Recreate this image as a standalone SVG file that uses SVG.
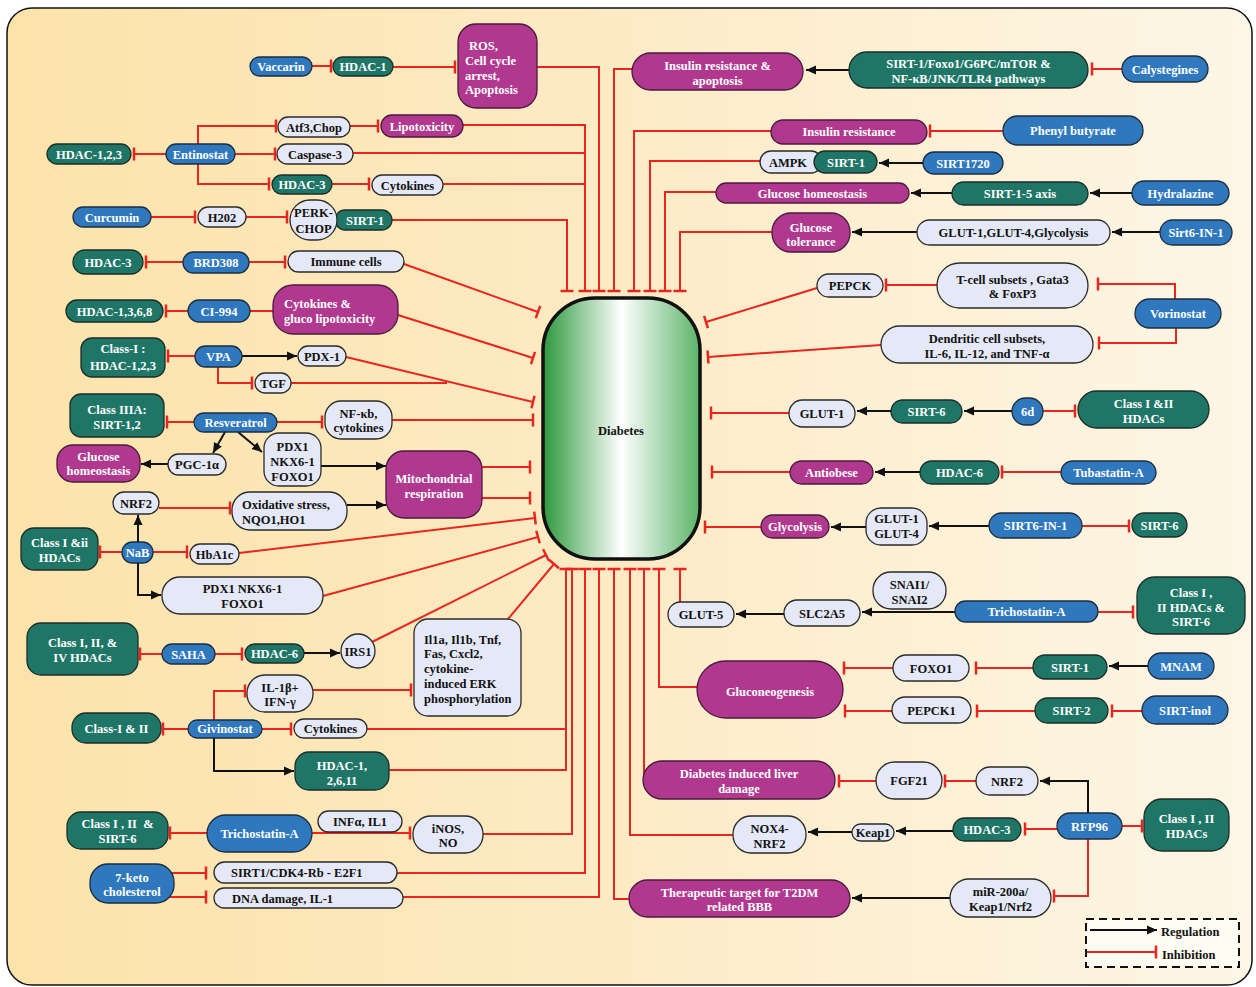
<svg xmlns="http://www.w3.org/2000/svg" width="1256" height="987" viewBox="0 0 1256 987">
<style>
  text { font-family: "Liberation Serif", "Times New Roman", serif; font-weight: bold; font-size: 12.5px; text-anchor: middle; }
  .w { fill: #ffffff; }
  .k { fill: #111111; }
  .s { text-anchor: start; }
  .b { fill: #2f78be; stroke: #1d2d40; stroke-width: 1.3; }
  .t { fill: #1f7667; stroke: #1d2d2a; stroke-width: 1.3; }
  .m { fill: #b0388f; stroke: #4a1a3c; stroke-width: 1.3; }
  .l { fill: #e5e9f7; stroke: #2a2a2a; stroke-width: 1.3; }
  .r { fill: none; stroke: #e8261f; stroke-width: 2; }
  .a { fill: none; stroke: #111111; stroke-width: 2; }
  .ri { marker-end: url(#inh); }
  .aa { marker-end: url(#arr); }
</style>
<defs>
  <linearGradient id="bg" x1="0" y1="0" x2="1" y2="0">
    <stop offset="0" stop-color="#fce3aa"/>
    <stop offset="0.5" stop-color="#fdebc6"/>
    <stop offset="1" stop-color="#fdf6e6"/>
  </linearGradient>
  <linearGradient id="dia" x1="0" y1="0" x2="1" y2="0">
    <stop offset="0" stop-color="#2c983c"/>
    <stop offset="0.5" stop-color="#ffffff"/>
    <stop offset="1" stop-color="#5bb468"/>
  </linearGradient>
  <marker id="inh" viewBox="-2 -7 4 14" refX="0" refY="0" markerWidth="4" markerHeight="14" markerUnits="userSpaceOnUse" orient="auto">
    <path d="M0,-6.5V6.5" stroke="#e8261f" stroke-width="2.5"/>
  </marker>
  <marker id="arr" viewBox="0 -5 10 10" refX="10" refY="0" markerWidth="10" markerHeight="10" markerUnits="userSpaceOnUse" orient="auto">
    <path d="M0,-4.5L10,0L0,4.5Z" fill="#111111"/>
  </marker>
</defs>

<!-- panel -->
<rect x="7" y="8" width="1245" height="977" rx="25" fill="url(#bg)" stroke="#111" stroke-width="1.5"/>

<!-- connectors -->
<g id="connectors">
  <!-- upper left chains -->
  <path class="r ri" d="M312,66H331"/>
  <path class="r ri" d="M393,67H455"/>
  <path class="r ri" d="M166,154H134"/>
  <path class="r ri" d="M198,144V126H276"/>
  <path class="r ri" d="M235,154H275"/>
  <path class="r ri" d="M198,164V184H269"/>
  <path class="r ri" d="M350,126H378"/>
  <path class="r ri" d="M332,184H369"/>
  <path class="r ri" d="M151,217H195"/>
  <path class="r ri" d="M246,217H287"/>
  <path class="r ri" d="M183,262H146"/>
  <path class="r ri" d="M249,262H285"/>
  <path class="r ri" d="M188,311H166"/>
  <path class="r" d="M250,311H273"/>
  <path class="r ri" d="M195,356H168"/>
  <path class="a aa" d="M242,356H297"/>
  <path class="r ri" d="M218,367V383H252"/>
  <path class="r ri" d="M194,422H167"/>
  <path class="r ri" d="M277,422H322"/>
  <path class="a aa" d="M225,432L213,453"/>
  <path class="a aa" d="M238,432L262,452"/>
  <path class="a aa" d="M168,464H141"/>
  <path class="a aa" d="M321,466H386"/>
  <path class="r ri" d="M159,508H230"/>
  <path class="a aa" d="M347,505H386"/>
  <path class="r ri" d="M122,552H100"/>
  <path class="a aa" d="M138,542V515"/>
  <path class="r ri" d="M153,552H187"/>
  <path class="a aa" d="M138,563V595H161"/>
  <path class="r ri" d="M162,654H140"/>
  <path class="r ri" d="M215,654H242"/>
  <path class="a aa" d="M304,653H340"/>
  <path class="r ri" d="M214,720V691H245"/>
  <path class="r ri" d="M313,690H411"/>
  <path class="r ri" d="M188,729H163"/>
  <path class="r ri" d="M262,729H291"/>
  <path class="a aa" d="M214,738V771H294"/>
  <path class="r ri" d="M207,833H170"/>
  <path class="r ri" d="M312,833H410"/>
  <path class="r ri" d="M168,873H206"/>
  <path class="r ri" d="M168,897H206"/>

  <!-- left side into Diabetes -->
  <path class="r ri" d="M404,264L538,312"/>
  <path class="r ri" d="M398,315L533,358"/>
  <path class="r ri" d="M346,357L533,402"/>
  <path class="r" d="M291,383H447"/>
  <path class="r ri" d="M392,420H533"/>
  <path class="r ri" d="M482,467H530"/>
  <path class="r ri" d="M482,498H530"/>
  <path class="r ri" d="M239,553L535,518"/>
  <path class="r ri" d="M323,596L538,537"/>
  <path class="r ri" d="M372,642L546,555"/>
  <path class="r ri" d="M508,619L554,564"/>

  <!-- top into Diabetes -->
  <path class="r ri" d="M392,220H567V291"/>
  <path class="r ri" d="M463,125H585V291"/>
  <path class="r" d="M353,153H585"/>
  <path class="r" d="M443,184H585"/>
  <path class="r ri" d="M537,67H599V291"/>
  <path class="r ri" d="M632,69H614V291"/>
  <path class="r ri" d="M771,131H634V291"/>
  <path class="r ri" d="M760,161H650V291"/>
  <path class="r ri" d="M716,192H665V291"/>
  <path class="r ri" d="M772,232H680V291"/>

  <!-- bottom into Diabetes -->
  <path class="r ri" d="M389,770H566V569"/>
  <path class="r" d="M367,729H566"/>
  <path class="r ri" d="M483,834H572V569"/>
  <path class="r ri" d="M397,873H585V569"/>
  <path class="r ri" d="M403,897H599V569"/>
  <path class="r ri" d="M629,899H614V569"/>
  <path class="r ri" d="M733,835H630V569"/>
  <path class="r ri" d="M644,775V569"/>
  <path class="r ri" d="M697,687H659V569"/>
  <path class="r ri" d="M680,602V569"/>

  <!-- right side into Diabetes -->
  <path class="r ri" d="M817,288L706,322"/>
  <path class="r ri" d="M881,345L708,357"/>
  <path class="r ri" d="M789,413H711"/>
  <path class="r ri" d="M790,472H712"/>
  <path class="r ri" d="M761,527H705"/>

  <!-- right chains -->
  <path class="a aa" d="M849,70H806"/>
  <path class="r ri" d="M1122,69H1092"/>
  <path class="r ri" d="M1003,131H930"/>
  <path class="a aa" d="M923,163H879"/>
  <path class="a aa" d="M952,193H911"/>
  <path class="a aa" d="M1132,193H1090"/>
  <path class="a aa" d="M917,232H852"/>
  <path class="a aa" d="M1160,232H1112"/>
  <path class="r ri" d="M937,285H886"/>
  <path class="r ri" d="M1175,299V284H1098"/>
  <path class="r ri" d="M1176,328V343H1099"/>
  <path class="a aa" d="M891,411H857"/>
  <path class="a aa" d="M1012,411H964"/>
  <path class="r ri" d="M1043,411H1075"/>
  <path class="a aa" d="M920,472H875"/>
  <path class="r ri" d="M1061,472H1002"/>
  <path class="a aa" d="M866,527H831"/>
  <path class="a aa" d="M989,526H929"/>
  <path class="r ri" d="M1082,526H1129"/>
  <path class="a aa" d="M784,614H736"/>
  <path class="a aa" d="M955,612H862"/>
  <path class="r ri" d="M1098,612H1133"/>
  <path class="r ri" d="M893,668H844"/>
  <path class="r ri" d="M1033,668H976"/>
  <path class="a aa" d="M1148,666H1109"/>
  <path class="r ri" d="M892,711H845"/>
  <path class="r ri" d="M1035,711H977"/>
  <path class="r ri" d="M1142,711H1112"/>
  <path class="r ri" d="M876,781H839"/>
  <path class="r ri" d="M976,781H945"/>
  <path class="a aa" d="M1088,813V781H1040"/>
  <path class="r ri" d="M1122,826H1142"/>
  <path class="r ri" d="M1057,829H1025"/>
  <path class="a aa" d="M953,831H896"/>
  <path class="a aa" d="M852,832H808"/>
  <path class="r ri" d="M1088,839V896H1054"/>
  <path class="a aa" d="M950,898H852"/>
</g>

<!-- central node -->
<g id="diabetes">
  <rect x="543" y="298" width="157" height="261" rx="52" fill="url(#dia)" stroke="#111" stroke-width="3.5"/>
  <text class="k" x="621" y="435" font-size="13">Diabetes</text>
</g>

<!-- left nodes -->
<g id="vaccarin"><rect class="b" x="250" y="57" width="62" height="19" rx="9.5"/><text class="w" x="281" y="70.5">Vaccarin</text></g>
<g id="hdac1-top"><rect class="t" x="333" y="57" width="60" height="19" rx="9.5"/><text class="w" x="363" y="70.5">HDAC-1</text></g>
<g id="ros"><rect class="m" x="458" y="24" width="79" height="84" rx="18"/>
  <text class="w s" x="469" y="49.5">ROS,</text><text class="w s" x="465" y="64.5">Cell cycle</text><text class="w s" x="465" y="79.5">arrest,</text><text class="w s" x="465" y="93.5">Apoptosis</text></g>
<g id="hdac123-a"><rect class="t" x="47" y="144" width="84" height="20" rx="10"/><text class="w" x="89" y="158.5">HDAC-1,2,3</text></g>
<g id="entinostat"><rect class="b" x="166" y="144" width="69" height="20" rx="10"/><text class="w" x="200.5" y="158.5">Entinostat</text></g>
<g id="atf3"><rect class="l" x="278" y="117" width="72" height="20" rx="10"/><text class="k" x="314" y="131.5">Atf3,Chop</text></g>
<g id="lipotoxicity"><rect class="m" x="381" y="115" width="82" height="22" rx="11"/><text class="w" x="422" y="130.5">Lipotoxicity</text></g>
<g id="caspase3"><rect class="l" x="277" y="144" width="76" height="20" rx="10"/><text class="k" x="315" y="158.5">Caspase-3</text></g>
<g id="hdac3-e"><rect class="t" x="272" y="175" width="60" height="19" rx="9.5"/><text class="w" x="302" y="188.5">HDAC-3</text></g>
<g id="cytokines-e"><rect class="l" x="372" y="175" width="71" height="20" rx="10"/><text class="k" x="407.5" y="189.5">Cytokines</text></g>
<g id="curcumin"><rect class="b" x="73" y="207" width="78" height="20" rx="10"/><text class="w" x="112" y="221.5">Curcumin</text></g>
<g id="h202"><rect class="l" x="198" y="207" width="48" height="20" rx="10"/><text class="k" x="222" y="221.5">H202</text></g>
<g id="sirt1-c"><rect class="t" x="335" y="210" width="57" height="20" rx="10"/><text class="w" x="365" y="224.5">SIRT-1</text></g>
<g id="perk-chop"><rect class="l" x="290" y="200" width="47" height="40" rx="20"/><text class="k" x="313.5" y="216.5">PERK-</text><text class="k" x="313.5" y="232.5">CHOP</text></g>
<g id="hdac3-b"><rect class="t" x="73" y="250" width="70" height="24" rx="12"/><text class="w" x="108" y="266.5">HDAC-3</text></g>
<g id="brd308"><rect class="b" x="183" y="252" width="66" height="21" rx="10.5"/><text class="w" x="216" y="267">BRD308</text></g>
<g id="immune"><rect class="l" x="288" y="251" width="116" height="21" rx="10.5"/><text class="k" x="346" y="266">Immune cells</text></g>
<g id="hdac1368"><rect class="t" x="66" y="300" width="97" height="22" rx="11"/><text class="w" x="114.5" y="315.5">HDAC-1,3,6,8</text></g>
<g id="ci994"><rect class="b" x="188" y="300" width="62" height="22" rx="11"/><text class="w" x="219" y="315.5">CI-994</text></g>
<g id="cyto-gluco"><rect class="m" x="273" y="285" width="125" height="49" rx="20"/><text class="w s" x="284" y="307.5">Cytokines &amp;</text><text class="w s" x="284" y="322.5">gluco lipotoxicity</text></g>
<g id="class1-hdac123"><rect class="t" x="81" y="338" width="84" height="39" rx="11"/><text class="w" x="123" y="352.5">Class-I :</text><text class="w" x="123" y="369.5">HDAC-1,2,3</text></g>
<g id="vpa"><rect class="b" x="195" y="346" width="47" height="21" rx="10.5"/><text class="w" x="218.5" y="361">VPA</text></g>
<g id="pdx1"><rect class="l" x="298" y="346" width="48" height="20" rx="10"/><text class="k" x="322" y="360.5">PDX-1</text></g>
<g id="tgf"><rect class="l" x="255" y="373" width="36" height="20" rx="10"/><text class="k" x="273" y="387.5">TGF</text></g>
<g id="class3a"><rect class="t" x="70" y="394" width="94" height="43" rx="11"/><text class="w" x="117" y="413.5">Class IIIA:</text><text class="w" x="117" y="428.5">SIRT-1,2</text></g>
<g id="resveratrol"><rect class="b" x="194" y="413" width="83" height="19" rx="9.5"/><text class="w" x="235.5" y="426.5">Resveratrol</text></g>
<g id="nfkb"><rect class="l" x="325" y="401" width="67" height="38" rx="16"/><text class="k" x="358.5" y="417.5">NF-κb,</text><text class="k" x="358.5" y="431.5">cytokines</text></g>
<g id="pgc1a"><rect class="l" x="168" y="454" width="58" height="21" rx="10.5"/><text class="k" x="197" y="468.5">PGC-1α</text></g>
<g id="pdx-mid"><rect class="l" x="264" y="433" width="57" height="53" rx="15"/><text class="k" x="292.5" y="450.5">PDX1</text><text class="k" x="292.5" y="465.5">NKX6-1</text><text class="k" x="292.5" y="480.5">FOXO1</text></g>
<g id="gluc-homeo-l"><rect class="m" x="57" y="445" width="83" height="37" rx="16"/><text class="w" x="98.5" y="460.5">Glucose</text><text class="w" x="98.5" y="474.5">homeostasis</text></g>
<g id="mito"><rect class="m" x="386" y="451" width="96" height="67" rx="18"/><text class="w" x="434" y="482.5">Mitochondrial</text><text class="w" x="434" y="497.5">respiration</text></g>
<g id="nrf2-l"><rect class="l" x="113" y="492" width="46" height="22" rx="11"/><text class="k" x="136" y="507.5">NRF2</text></g>
<g id="oxidative"><rect class="l" x="232" y="492" width="115" height="38" rx="18"/><text class="k s" x="242" y="508.5">Oxidative stress,</text><text class="k s" x="242" y="523.5">NQO1,HO1</text></g>
<g id="class1-2-l"><rect class="t" x="21" y="528" width="77" height="42" rx="13"/><text class="w" x="59.5" y="546.5">Class I &amp;ii</text><text class="w" x="59.5" y="561.5">HDACs</text></g>
<g id="nab"><rect class="b" x="122" y="542" width="31" height="21" rx="10.5"/><text class="w" x="137.5" y="556.5">NaB</text></g>
<g id="hba1c"><rect class="l" x="190" y="544" width="49" height="20" rx="10"/><text class="k" x="214.5" y="558.5">HbA1c</text></g>
<g id="pdx-low"><rect class="l" x="162" y="577" width="161" height="37" rx="18"/><text class="k" x="242.5" y="592.5">PDX1 NKX6-1</text><text class="k" x="242.5" y="607.5">FOXO1</text></g>
<g id="class124"><rect class="t" x="27" y="623" width="111" height="52" rx="14"/><text class="w" x="82.5" y="646.5">Class I, II, &amp;</text><text class="w" x="82.5" y="661.5">IV HDACs</text></g>
<g id="saha"><rect class="b" x="162" y="644" width="53" height="20" rx="10"/><text class="w" x="188.5" y="658.5">SAHA</text></g>
<g id="hdac6-l"><rect class="t" x="245" y="644" width="59" height="19" rx="9.5"/><text class="w" x="274.5" y="658">HDAC-6</text></g>
<g id="irs1"><rect class="l" x="341" y="634" width="34" height="34" rx="17"/><text class="k" x="358" y="655.5">IRS1</text></g>
<g id="il1b"><rect class="l" x="247" y="675" width="66" height="37" rx="18"/><text class="k" x="280" y="691.5">IL-1β+</text><text class="k" x="280" y="705.5">IFN-γ</text></g>
<g id="il1a-box"><rect class="l" x="414" y="619" width="107" height="97" rx="14"/>
  <text class="k s" x="424" y="643.5">Il1a, Il1b, Tnf,</text><text class="k s" x="424" y="657.5">Fas, Cxcl2,</text><text class="k s" x="424" y="672.5">cytokine-</text><text class="k s" x="424" y="687.5">induced ERK</text><text class="k s" x="424" y="702.5">phosphorylation</text></g>
<g id="class1-2-g"><rect class="t" x="72" y="713" width="89" height="30" rx="14"/><text class="w" x="116.5" y="732.5">Class-I &amp; II</text></g>
<g id="givinostat"><rect class="b" x="188" y="720" width="74" height="18" rx="9"/><text class="w" x="225" y="733">Givinostat</text></g>
<g id="cytokines-g"><rect class="l" x="294" y="719" width="73" height="19" rx="9.5"/><text class="k" x="330.5" y="733">Cytokines</text></g>
<g id="hdac12611"><rect class="t" x="295" y="752" width="94" height="38" rx="14"/><text class="w" x="342" y="769.5">HDAC-1,</text><text class="w" x="342" y="784.5">2,6,11</text></g>
<g id="class12-sirt6-l"><rect class="t" x="67" y="812" width="101" height="37" rx="14"/><text class="w" x="117.5" y="827.5">Class I , II&#160; &amp;</text><text class="w" x="117.5" y="842.5">SIRT-6</text></g>
<g id="tsa-l"><rect class="b" x="207" y="815" width="105" height="37" rx="18.5"/><text class="w" x="259.5" y="837.5">Trichostatin-A</text></g>
<g id="infa"><rect class="l" x="318" y="811" width="84" height="21" rx="10.5"/><text class="k" x="360" y="825.5">INFα, IL1</text></g>
<g id="inos"><rect class="l" x="413" y="816" width="70" height="37" rx="18"/><text class="k" x="448" y="832.5">iNOS,</text><text class="k" x="448" y="846.5">NO</text></g>
<g id="keto"><rect class="b" x="90" y="864" width="84" height="39" rx="18"/><text class="w" x="132" y="881.5">7-keto</text><text class="w" x="132" y="895.5">cholesterol</text></g>
<g id="sirt1-cdk4"><rect class="l" x="214" y="862" width="183" height="21" rx="10.5"/><text class="k s" x="231" y="877">SIRT1/CDK4-Rb - E2F1</text></g>
<g id="dna-damage"><rect class="l" x="214" y="888" width="189" height="20" rx="10"/><text class="k s" x="232" y="902.5">DNA damage, IL-1</text></g>

<!-- right nodes -->
<g id="ins-res-apop"><rect class="m" x="632" y="53" width="171" height="37" rx="18.5"/><text class="w" x="717.5" y="69.5">Insulin resistance &amp;</text><text class="w" x="717.5" y="84.5">apoptosis</text></g>
<g id="sirt1-pathways"><rect class="t" x="849" y="52" width="239" height="36" rx="18"/><text class="w" x="968.5" y="67.5">SIRT-1/Foxo1/G6PC/mTOR &amp;</text><text class="w" x="968.5" y="82.5">NF-κB/JNK/TLR4 pathways</text></g>
<g id="calystegines"><rect class="b" x="1122" y="56" width="86" height="26" rx="13"/><text class="w" x="1165" y="73.5">Calystegines</text></g>
<g id="ins-res"><rect class="m" x="771" y="120" width="156" height="24" rx="12"/><text class="w" x="849" y="136">Insulin resistance</text></g>
<g id="phenyl"><rect class="b" x="1003" y="116" width="140" height="29" rx="14.5"/><text class="w" x="1073" y="135">Phenyl butyrate</text></g>
<g id="ampk"><rect class="l" x="760" y="151" width="62" height="22" rx="11"/><text class="k" x="788" y="166.5">AMPK</text></g>
<g id="sirt1-r"><rect class="t" x="814" y="151" width="63" height="22" rx="11"/><text class="w" x="846" y="166.5">SIRT-1</text></g>
<g id="sirt1720"><rect class="b" x="923" y="152" width="80" height="22" rx="11"/><text class="w" x="963" y="167.5">SIRT1720</text></g>
<g id="gluc-homeo-r"><rect class="m" x="716" y="183" width="193" height="20" rx="10"/><text class="w" x="812.5" y="197.5">Glucose homeostasis</text></g>
<g id="sirt15"><rect class="t" x="952" y="182" width="136" height="23" rx="11.5"/><text class="w" x="1020" y="198">SIRT-1-5 axis</text></g>
<g id="hydralazine"><rect class="b" x="1132" y="181" width="97" height="24" rx="12"/><text class="w" x="1180.5" y="197.5">Hydralazine</text></g>
<g id="gluc-tol"><rect class="m" x="772" y="213" width="78" height="39" rx="19"/><text class="w" x="811" y="231.5">Glucose</text><text class="w" x="811" y="245.5">tolerance</text></g>
<g id="glut-glyco"><rect class="l" x="917" y="220" width="193" height="25" rx="12.5"/><text class="k" x="1013.5" y="236.5">GLUT-1,GLUT-4,Glycolysis</text></g>
<g id="sirt6in1-a"><rect class="b" x="1160" y="220" width="72" height="25" rx="12.5"/><text class="w" x="1196" y="236.5">Sirt6-IN-1</text></g>
<g id="pepck"><rect class="l" x="817" y="274" width="66" height="23" rx="11.5"/><text class="k" x="850" y="290">PEPCK</text></g>
<g id="tcell"><rect class="l" x="937" y="263" width="151" height="45" rx="22.5"/><text class="k" x="1012.5" y="283.5">T-cell subsets , Gata3</text><text class="k" x="1012.5" y="297.5">&amp; FoxP3</text></g>
<g id="vorinostat"><rect class="b" x="1135" y="299" width="86" height="29" rx="14.5"/><text class="w" x="1178" y="318">Vorinostat</text></g>
<g id="dendritic"><rect class="l" x="881" y="326" width="212" height="37" rx="18.5"/><text class="k" x="987" y="342.5">Dendritic cell subsets,</text><text class="k" x="987" y="357.5">IL-6, IL-12, and TNF-α</text></g>
<g id="glut1-r"><rect class="l" x="789" y="400" width="66" height="27" rx="13.5"/><text class="k" x="822" y="417.5">GLUT-1</text></g>
<g id="sirt6-a"><rect class="t" x="891" y="400" width="71" height="23" rx="11.5"/><text class="w" x="926.5" y="416">SIRT-6</text></g>
<g id="d6"><rect class="b" x="1012" y="398" width="31" height="27" rx="13.5"/><text class="w" x="1027.5" y="416">6d</text></g>
<g id="class12-r"><rect class="t" x="1078" y="391" width="131" height="37" rx="18.5"/><text class="w" x="1143.5" y="407.5">Class I &amp;II</text><text class="w" x="1143.5" y="422.5">HDACs</text></g>
<g id="antiobese"><rect class="m" x="790" y="461" width="83" height="23" rx="11.5"/><text class="w" x="831.5" y="477">Antiobese</text></g>
<g id="hdac6-r"><rect class="t" x="920" y="461" width="79" height="23" rx="11.5"/><text class="w" x="959.5" y="477">HDAC-6</text></g>
<g id="tubastatin"><rect class="b" x="1061" y="461" width="95" height="23" rx="11.5"/><text class="w" x="1108.5" y="477">Tubastatin-A</text></g>
<g id="glycolysis"><rect class="m" x="761" y="515" width="68" height="23" rx="11.5"/><text class="w" x="795" y="531">Glycolysis</text></g>
<g id="glut14"><rect class="l" x="866" y="508" width="61" height="37" rx="15"/><text class="k" x="896.5" y="522.5">GLUT-1</text><text class="k" x="896.5" y="537.5">GLUT-4</text></g>
<g id="sirt6in1-b"><rect class="b" x="989" y="513" width="93" height="25" rx="12.5"/><text class="w" x="1035.5" y="530">SIRT6-IN-1</text></g>
<g id="sirt6-b"><rect class="t" x="1132" y="513" width="55" height="24" rx="12"/><text class="w" x="1159.5" y="529.5">SIRT-6</text></g>
<g id="glut5"><rect class="l" x="668" y="602" width="66" height="25" rx="12.5"/><text class="k" x="701" y="619">GLUT-5</text></g>
<g id="snai"><rect class="l" x="873" y="572" width="73" height="37" rx="18"/><text class="k" x="909.5" y="588.5">SNAI1/</text><text class="k" x="909.5" y="603.5">SNAI2</text></g>
<g id="slc2a5"><rect class="l" x="784" y="600" width="76" height="26" rx="13"/><text class="k" x="822" y="617.5">SLC2A5</text></g>
<g id="tsa-r"><rect class="b" x="955" y="601" width="143" height="21" rx="10.5"/><text class="w" x="1026.5" y="616">Trichostatin-A</text></g>
<g id="class12-sirt6-r"><rect class="t" x="1137" y="577" width="108" height="57" rx="18"/><text class="w" x="1191" y="596.5">Class I ,</text><text class="w" x="1191" y="611.5">II HDACs &amp;</text><text class="w" x="1191" y="625.5">SIRT-6</text></g>
<g id="gluconeo"><rect class="m" x="697" y="661" width="146" height="57" rx="28.5"/><text class="w" x="770" y="695.5">Gluconeogenesis</text></g>
<g id="foxo1"><rect class="l" x="893" y="655" width="76" height="26" rx="13"/><text class="k" x="931" y="672.5">FOXO1</text></g>
<g id="sirt1-b"><rect class="t" x="1033" y="655" width="74" height="24" rx="12"/><text class="w" x="1070" y="671.5">SIRT-1</text></g>
<g id="mnam"><rect class="b" x="1148" y="653" width="66" height="26" rx="13"/><text class="w" x="1181" y="670.5">MNAM</text></g>
<g id="pepck1"><rect class="l" x="892" y="697" width="79" height="26" rx="13"/><text class="k" x="931.5" y="714.5">PEPCK1</text></g>
<g id="sirt2"><rect class="t" x="1035" y="698" width="73" height="25" rx="12.5"/><text class="w" x="1071.5" y="715">SIRT-2</text></g>
<g id="sirtinol"><rect class="b" x="1142" y="696" width="86" height="28" rx="14"/><text class="w" x="1185" y="714.5">SIRT-inol</text></g>
<g id="liver"><rect class="m" x="643" y="761" width="192" height="38" rx="19"/><text class="w" x="739" y="777.5">Diabetes induced liver</text><text class="w" x="739" y="792.5">damage</text></g>
<g id="fgf21"><rect class="l" x="876" y="762" width="66" height="37" rx="18.5"/><text class="k" x="909" y="785">FGF21</text></g>
<g id="nrf2-r"><rect class="l" x="976" y="767" width="62" height="28" rx="14"/><text class="k" x="1007" y="785.5">NRF2</text></g>
<g id="rfp96"><rect class="b" x="1057" y="813" width="65" height="26" rx="13"/><text class="w" x="1089.5" y="830.5">RFP96</text></g>
<g id="class12-r2"><rect class="t" x="1144" y="799" width="85" height="52" rx="18"/><text class="w" x="1186.5" y="822.5">Class I , II</text><text class="w" x="1186.5" y="837.5">HDACs</text></g>
<g id="hdac3-r"><rect class="t" x="953" y="818" width="68" height="23" rx="11.5"/><text class="w" x="987" y="834">HDAC-3</text></g>
<g id="keap1"><rect class="l" x="852" y="824" width="42" height="17" rx="8.5"/><text class="k" x="873" y="836.5" font-size="11.5">Keap1</text></g>
<g id="nox4"><rect class="l" x="733" y="816" width="73" height="37" rx="18"/><text class="k" x="769.5" y="832.5">NOX4-</text><text class="k" x="769.5" y="847.5">NRF2</text></g>
<g id="mir200a"><rect class="l" x="950" y="879" width="101" height="38" rx="19"/><text class="k" x="1000.5" y="895.5">miR-200a/</text><text class="k" x="1000.5" y="910.5">Keap1/Nrf2</text></g>
<g id="t2dm"><rect class="m" x="629" y="880" width="221" height="37" rx="18.5"/><text class="w" x="739.5" y="896.5">Therapeutic target for T2DM</text><text class="w" x="739.5" y="910.5">related BBB</text></g>

<!-- legend -->
<g id="legend">
  <rect x="1086" y="919" width="153" height="48" fill="#fffcf4" stroke="#111" stroke-width="2" stroke-dasharray="8 5"/>
  <path class="a aa" d="M1090,930H1157" stroke-width="2.5"/>
  <text class="k s" x="1161" y="936" font-size="16">Regulation</text>
  <path class="r ri" d="M1087,952H1156"/>
  <text class="k s" x="1162" y="958.5" font-size="16">Inhibition</text>
</g>
</svg>
